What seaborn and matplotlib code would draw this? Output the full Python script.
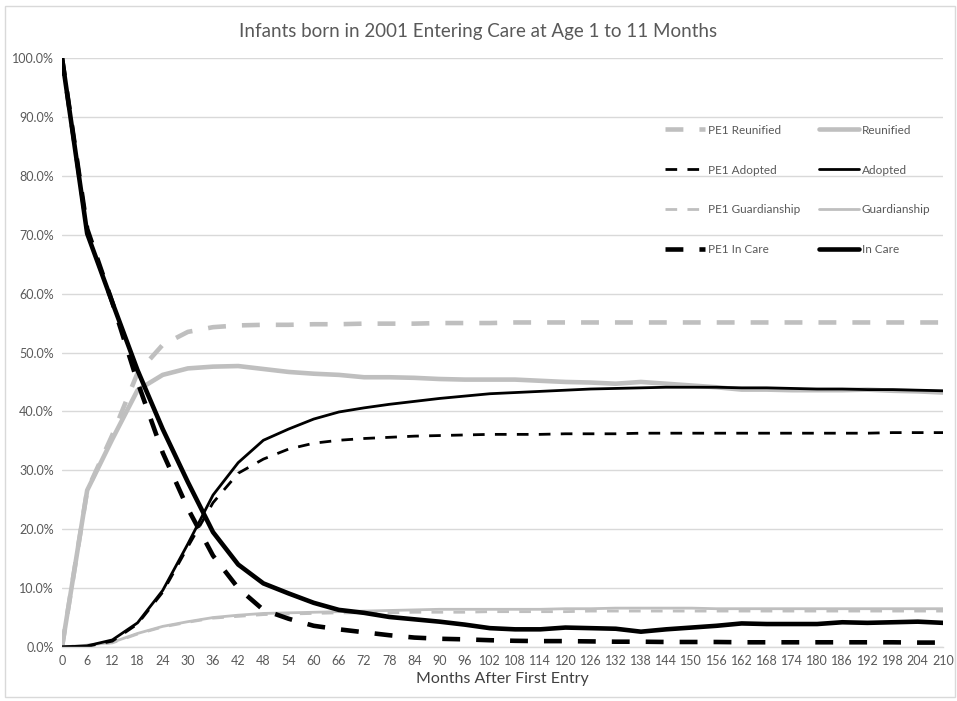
import numpy as np
import pandas as pd
import matplotlib
matplotlib.use("Agg")
import matplotlib.pyplot as plt
from matplotlib.patches import Rectangle
import seaborn as sns

# ---------------- data (percent) ----------------
months = list(range(0, 211, 6))

in_care = [100, 70.2, 58.5, 47, 37, 28, 19.5, 14, 10.8, 9.1, 7.5, 6.3, 5.8, 5.1, 4.7, 4.3,
           3.8, 3.2, 3.0, 3.0, 3.3, 3.2, 3.1, 2.6, 3.0, 3.3, 3.6, 4.0, 3.9, 3.9, 3.9, 4.2,
           4.1, 4.2, 4.3, 4.1]
pe1_in_care = [100, 71, 58.5, 45, 33, 23.5, 15.5, 10, 6.3, 4.8, 3.6, 3.0, 2.5, 2.0, 1.6, 1.4,
               1.3, 1.15, 1.05, 1.0, 1.0, 0.95, 0.9, 0.9, 0.85, 0.85, 0.85, 0.8, 0.8, 0.8, 0.8, 0.8,
               0.8, 0.8, 0.75, 0.75]
reunified = [0, 26.6, 35.3, 43.6, 46.2, 47.3, 47.6, 47.7, 47.2, 46.7, 46.4, 46.2, 45.8, 45.8, 45.7, 45.5,
             45.4, 45.4, 45.4, 45.2, 45.0, 44.9, 44.7, 45.0, 44.7, 44.4, 44.1, 43.7, 43.7, 43.6, 43.6, 43.6,
             43.7, 43.5, 43.4, 43.2]
pe1_reunified = [0, 26.6, 36, 46.5, 51.3, 53.5, 54.3, 54.6, 54.7, 54.7, 54.8, 54.8, 54.9, 54.9, 54.9, 55.0,
                 55.0, 55.0, 55.1, 55.1, 55.1, 55.1, 55.1, 55.1, 55.1, 55.1, 55.1, 55.1, 55.1, 55.1, 55.1, 55.1,
                 55.1, 55.1, 55.1, 55.1]
adopted = [0, 0.2, 1.2, 4.1, 9.6, 17.5, 25.8, 31.3, 35.1, 37.0, 38.7, 39.9, 40.6, 41.2, 41.7, 42.2,
           42.6, 43.0, 43.2, 43.4, 43.6, 43.8, 43.9, 44.0, 44.1, 44.1, 44.1, 44.0, 44.0, 43.9, 43.8, 43.8,
           43.7, 43.7, 43.6, 43.5]
pe1_adopted = [0, 0.1, 1.0, 3.9, 9.3, 17.0, 24.5, 29.5, 31.9, 33.6, 34.6, 35.1, 35.4, 35.6, 35.8, 35.9,
               36.0, 36.1, 36.1, 36.1, 36.2, 36.2, 36.2, 36.3, 36.3, 36.3, 36.3, 36.3, 36.3, 36.3, 36.3, 36.3,
               36.3, 36.4, 36.4, 36.4]
guardianship = [0, 0.3, 0.8, 2.3, 3.5, 4.3, 5.0, 5.4, 5.7, 5.8, 5.9, 6.0, 6.1, 6.2, 6.3, 6.4,
                6.4, 6.4, 6.4, 6.4, 6.5, 6.5, 6.6, 6.6, 6.6, 6.6, 6.5, 6.5, 6.5, 6.5, 6.5, 6.5,
                6.5, 6.5, 6.5, 6.5]
pe1_guardianship = [0, 0.3, 0.7, 2.2, 3.4, 4.2, 4.9, 5.2, 5.5, 5.6, 5.7, 5.8, 5.8, 5.8, 5.9, 5.9,
                    5.9, 6.0, 6.0, 6.0, 6.0, 6.1, 6.1, 6.1, 6.1, 6.1, 6.1, 6.1, 6.1, 6.1, 6.1, 6.1,
                    6.1, 6.1, 6.1, 6.1]

x_ticks = list(range(0, 211, 6))
y_ticks = [0, 10, 20, 30, 40, 50, 60, 70, 80, 90, 100]

title = "Infants born in 2001 Entering Care at Age 1 to 11 Months"
x_label = "Months After First Entry"

# ---------------- style ----------------
sns.set_theme(style="white")
plt.rcParams["font.family"] = ["Lato", "DejaVu Sans"]

GRAY = "#BFBFBF"
BLACK = "#000000"
TXT = "#595959"

fig = plt.figure(figsize=(9.57, 7.01), dpi=100)
ax = fig.add_axes([62 / 957, 1 - 647 / 701, 881 / 957, 589 / 701])

THICK = 3.3
THIN = 2.0
DASH_THICK = (0, (3.9, 3.5))
DASH_THIN = (0, (4.2, 3.7))

series = [
    ("PE1 Reunified", pe1_reunified, GRAY, THICK, DASH_THICK),
    ("PE1 Adopted", pe1_adopted, BLACK, THIN, DASH_THIN),
    ("PE1 Guardianship", pe1_guardianship, GRAY, THIN, DASH_THIN),
    ("PE1 In Care", pe1_in_care, BLACK, THICK, DASH_THICK),
    ("Reunified", reunified, GRAY, THICK, "-"),
    ("Adopted", adopted, BLACK, THIN, "-"),
    ("Guardianship", guardianship, GRAY, THIN, "-"),
    ("In Care", in_care, BLACK, THICK, "-"),
]

# draw order: back to front similar to reference
draw_order = ["Guardianship", "PE1 Guardianship", "Reunified", "PE1 Reunified",
              "Adopted", "PE1 Adopted", "PE1 In Care", "In Care"]
lines = {}
for name in draw_order:
    lab, vals, col, lw, ls = [s for s in series if s[0] == name][0]
    df = pd.DataFrame({"month": months, "pct": np.array(vals) / 100.0})
    sns.lineplot(data=df, x="month", y="pct", ax=ax, color=col, linewidth=lw,
                 linestyle=ls, label=lab, legend=False)
    ln = ax.get_lines()[-1]
    ln.set_solid_capstyle("round")
    ln.set_dash_capstyle("butt")
    ln.set_solid_joinstyle("round")
    lines[lab] = ln

ax.set_xlim(0, 210)
ax.set_ylim(0, 1.0)
ax.set_xticks(x_ticks)
ax.set_xticklabels([str(t) for t in x_ticks])
ax.set_yticks([v / 100 for v in y_ticks])
ax.set_yticklabels([f"{v:.1f}%" for v in y_ticks])
ax.tick_params(axis="both", length=0, labelsize=9, colors=TXT, pad=6)
ax.grid(axis="y", color="#D9D9D9", linewidth=1.0)
ax.grid(axis="x", visible=False)
for s in ["left", "right", "top"]:
    ax.spines[s].set_visible(False)
ax.spines["bottom"].set_color("#D9D9D9")
ax.spines["bottom"].set_linewidth(1.0)
ax.set_xlabel(x_label, fontsize=11.5, color="#404040", labelpad=3)
ax.set_ylabel("")

fig.text(0.5, 1 - 31 / 701, title, ha="center", va="center", fontsize=13.5, color=TXT)

handles = [lines[s[0]] for s in series]
labels = [s[0] for s in series]
leg = ax.legend(handles, labels, ncol=2, loc="upper left", bbox_to_anchor=(0.672, 0.905),
                frameon=False, fontsize=8.5, handlelength=3.4, handletextpad=0.25,
                labelspacing=2.45, columnspacing=1.6, labelcolor=TXT)

fig.patches.append(Rectangle((5 / 957, 4 / 701), 950 / 957, 691 / 701, transform=fig.transFigure,
                             fill=False, edgecolor="#D9D9D9", linewidth=1.0))

fig.savefig("out.png", dpi=100, facecolor="white")
